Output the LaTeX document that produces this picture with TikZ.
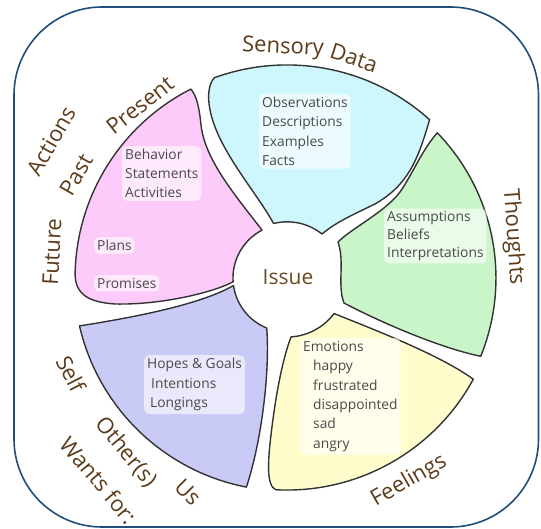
\documentclass[tikz,border=0pt]{standalone}
\usepackage{fontspec}
\setmainfont{Open Sans}
\definecolor{labelbrown}{HTML}{5C3B1A}
\definecolor{issuebrown}{HTML}{6B4A22}
\definecolor{petaltext}{HTML}{4A4A4A}
\definecolor{frameblue}{HTML}{1F4E79}
\definecolor{pinkfill}{HTML}{FDCBF9}
\definecolor{cyanfill}{HTML}{CDF6FD}
\definecolor{greenfill}{HTML}{C9F5C9}
\definecolor{yellowfill}{HTML}{FFFDCC}
\definecolor{lavfill}{HTML}{CACAF7}
\tikzset{
  frame/.style={draw=frameblue, line width=1.6pt, rounded corners=88pt},
  petal/.style={draw=black!80, line width=1.4pt, line join=round},
  lab/.style={text=labelbrown, font=\fontsize{22}{24}\selectfont, inner sep=0pt},
  ptext/.style={text=petaltext, font=\fontsize{13.8}{19.5}\selectfont, align=left,
    anchor=north west, fill=white, fill opacity=0.6, text opacity=1,
    rounded corners=5pt, inner sep=3pt},
  issuestyle/.style={text=issuebrown, font=\fontsize{21}{24}\selectfont, inner sep=0pt},
}
\begin{document}
\begin{tikzpicture}[x=1pt,y=-1pt]
\useasboundingbox (0,0) rectangle (541,529);
\draw[frame] (14,7) rectangle (538.5,527);

% Actions (pink)
\draw[petal, fill=pinkfill] (190.8,89.1) arc[start angle=243, end angle=182, radius=212]
  .. controls (74,292) and (85,302) .. (115,304)
  .. controls (160,305) and (212,293) .. (233.1,281.8)
  arc[start angle=176, end angle=242.5, radius=54]
  .. controls (235,195) and (205,160) .. (201,125)
  .. controls (199,105) and (196,95) .. cycle;

% Sensory data (cyan)
\draw[petal, fill=cyanfill] (214.2,77.8) arc[start angle=250, end angle=312, radius=213]
  .. controls (418,160) and (408,185) .. (375,204)
  .. controls (350,216) and (335,223) .. (322,234)
  arc[start angle=308.5, end angle=256, radius=56]
  .. controls (255,190) and (218,150) .. (210,110)
  .. controls (207,95) and (209,84) .. cycle;

% Thoughts (green)
\draw[petal, fill=greenfill] (437.3,132.8) arc[start angle=-44, end angle=22, radius=209]
  .. controls (440,348) and (380,322) .. (344,303)
  .. controls (337,285) and (345,262) .. (338,242)
  .. controls (352,228) and (385,212) .. (400,192)
  .. controls (412,175) and (422,150) .. cycle;

% Feelings (yellow)
\draw[petal, fill=yellowfill] (291.1,336.9) arc[start angle=86, end angle=37, radius=59]
  .. controls (375,330) and (440,355) .. (473.3,379.2)
  arc[start angle=28.5, end angle=93, radius=212]
  .. controls (266,486) and (268,460) .. (271,435)
  .. controls (275,400) and (282,360) .. cycle;

% Wants (lavender)
\draw[petal, fill=lavfill] (233.5,285.5) arc[start angle=172, end angle=112, radius=54]
  .. controls (270,370) and (262,440) .. (246.4,487.1)
  arc[start angle=101, end angle=167, radius=213]
  .. controls (130,318) and (200,305) .. cycle;

% centre
\node[issuestyle] (issue) at (288,277) {Issue};

% petal texts
\node[ptext] (sensetext) at (259,93.4) {Observations\\Descriptions\\Examples\\Facts};
\node[ptext, font=\fontsize{13.8}{17.7}\selectfont] (thoughttext) at (384,208.4) {Assumptions\\Beliefs\\Interpretations};
\node[ptext, font=\fontsize{13.8}{19}\selectfont] (behavetext) at (122,146) {Behavior\\Statements\\Activities};
\node[ptext] (planstext) at (94,237) {Plans};
\node[ptext] (promtext) at (94,275) {Promises};
\node[ptext] (hopetext) at (144,355) {Hopes \& Goals\\\hspace*{4pt}Intentions\\\hspace*{3pt}Longings};
\node[ptext, font=\fontsize{13.8}{19.4}\selectfont] (emotext) at (300,338) {Emotions\\\hspace*{10pt}happy\\\hspace*{10pt}frustrated\\\hspace*{10pt}disappointed\\\hspace*{10pt}sad\\\hspace*{10pt}angry};

% outer labels
\node[lab, rotate=-3] (sensory) at (283,48) {Sensory};
\node[lab, rotate=-18] (data) at (354,58) {Data};
\node[lab, rotate=-86] (thoughts) at (513,237) {Thoughts};
\node[lab, rotate=30] (feelings) at (409,481) {Feelings};
\node[lab, rotate=60] (actions) at (51,141) {Actions};
\node[lab, rotate=38] (present) at (140,105) {Present};
\node[lab, rotate=60] (past) at (76,175) {Past};
\node[lab, rotate=87] (future) at (52,252) {Future};
\node[lab, rotate=-63] (self) at (71,374) {Self};
\node[lab, rotate=-50] (others) at (126,452) {Other(s)};
\node[lab, rotate=-50] (wants) at (99,480) {Wants for:};
\node[lab, rotate=-45] (us) at (188,492) {Us};
\end{tikzpicture}
\end{document}
